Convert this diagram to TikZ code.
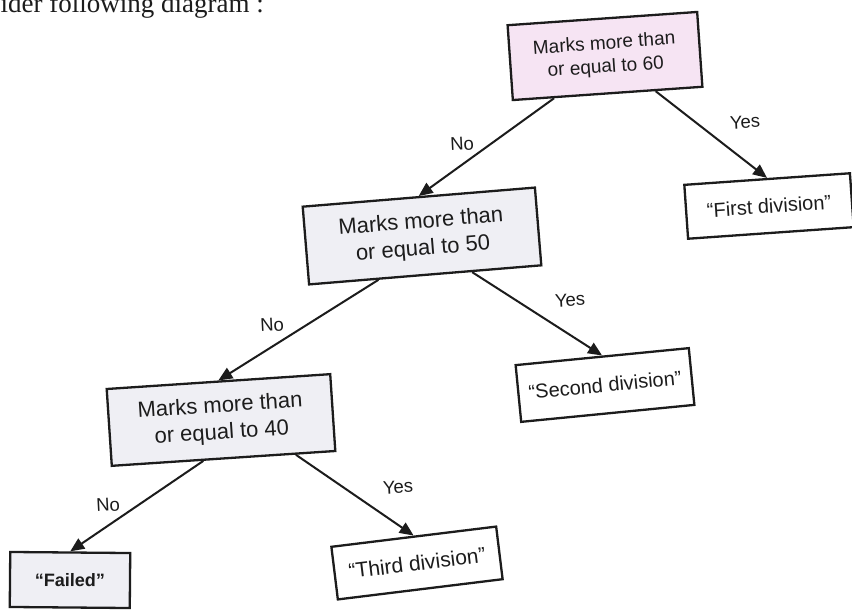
\documentclass[tikz,border=0pt]{standalone}
\usepackage{fontspec}
\setmainfont{Liberation Sans}
\newfontfamily\serifface{Liberation Serif}
\usetikzlibrary{arrows.meta,calc}
\definecolor{pinkfill}{HTML}{F6E4F3}
\definecolor{grayfill}{HTML}{EFEFF4}
\definecolor{ink}{HTML}{1C1C1C}
\begin{document}
\begin{tikzpicture}[x=1pt,y=-1pt,
  box/.style={draw=ink, line width=2.3pt, rectangle, align=center, inner sep=0pt, text=ink},
  qbox/.style={box, font=\fontsize{22}{27}\selectfont},
  leaf/.style={box, fill=white, font=\fontsize{20}{24}\selectfont},
  conn/.style={draw=ink, line width=2pt, -{Triangle[length=14pt,width=12pt]}},
  lbl/.style={text=ink, font=\fontsize{18.5}{21}\selectfont, inner sep=0pt, rotate=3}]
\useasboundingbox (0,0) rectangle (852,610);
\fill[white] (0,0) rectangle (852,610);
\clip (0,0) rectangle (852,610);
\node[anchor=base west, font=\serifface\fontsize{27}{31}\selectfont, text=ink, inner sep=0pt] (head) at (-55,12.5) {Consider following diagram :};
% question boxes
\node[qbox, fill=pinkfill, minimum width=190, minimum height=75, rotate=4, font=\fontsize{19}{23.5}\selectfont] (A) at (605,56) {Marks more than\\or equal to 60};
\node[qbox, fill=grayfill, minimum width=233, minimum height=78, rotate=4.7] (B) at (422,236) {Marks more than\\or equal to 50};
\node[qbox, fill=grayfill, minimum width=224, minimum height=77, rotate=3.8] (C) at (221,420) {Marks more than\\or equal to 40};
% leaves
\node[leaf, minimum width=166, minimum height=54, rotate=4] (F) at (769,206) {``First division''};
\node[leaf, minimum width=174, minimum height=57, rotate=5.6] (S) at (605,385) {``Second division''};
\node[leaf, minimum width=166, minimum height=53, rotate=7, font=\fontsize{21}{25}\selectfont] (T) at (417,563) {``Third division''};
\node[box, fill=grayfill, minimum width=120, minimum height=55, rotate=-0.5, font=\bfseries\fontsize{18}{21}\selectfont] (Fl) at (70,580) {``Failed''};
% connectors
\draw[conn] ($(A.south west)!0.22!(A.south east)$) -- (B.north);
\draw[conn] ($(A.south west)!0.75!(A.south east)$) -- (F.north);
\draw[conn] ($(B.south west)!0.30!(B.south east)$) -- (C.north);
\draw[conn] ($(B.south west)!0.70!(B.south east)$) -- (S.north);
\draw[conn] ($(C.south west)!0.41!(C.south east)$) -- (Fl.north);
\draw[conn] ($(C.south west)!0.82!(C.south east)$) -- (T.north);
% labels
\node[lbl] (noA) at (462,144) {No};
\node[lbl] (yesA) at (745,122) {Yes};
\node[lbl] (noB) at (272,325) {No};
\node[lbl] (yesB) at (570,300) {Yes};
\node[lbl] (noC) at (108,505) {No};
\node[lbl] (yesC) at (398,487) {Yes};
\end{tikzpicture}
\end{document}
